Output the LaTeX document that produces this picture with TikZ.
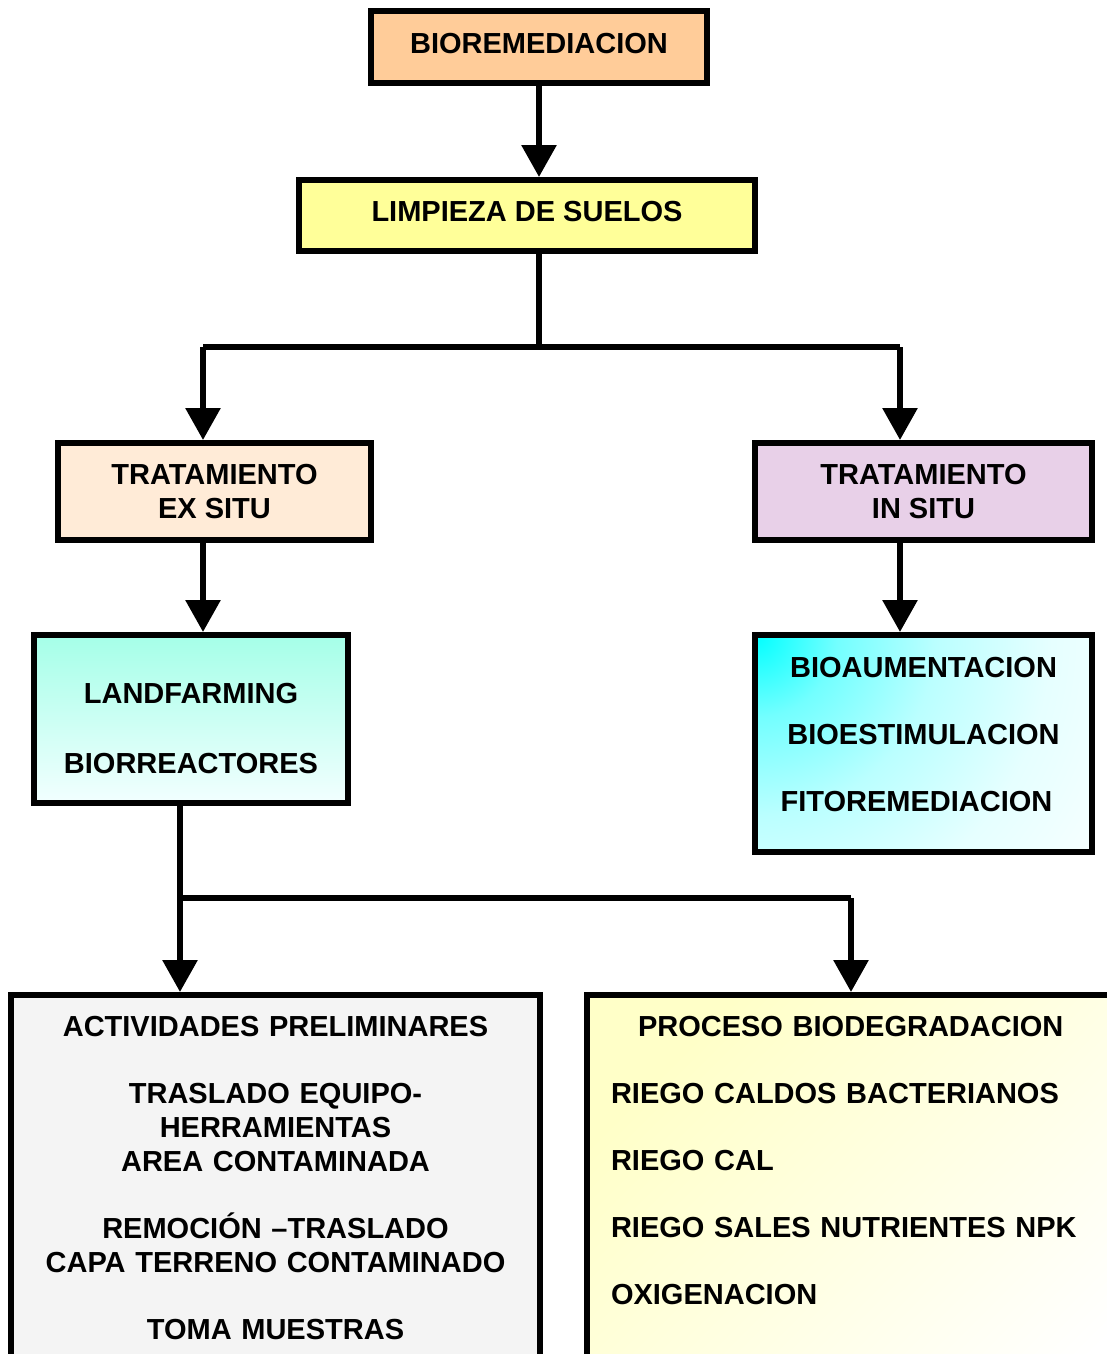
\documentclass[tikz,border=0pt]{standalone}
\usepackage{fontspec}
\setmainfont{Liberation Sans}
\usetikzlibrary{arrows.meta}
\definecolor{peach}{RGB}{255,204,153}
\definecolor{paleyellow}{RGB}{255,255,153}
\definecolor{palepeach}{RGB}{255,235,215}
\definecolor{palelilac}{RGB}{232,208,232}
\definecolor{aquatop}{RGB}{165,255,232}
\definecolor{aquabot}{RGB}{242,255,255}
\definecolor{cyantop}{RGB}{0,255,255}
\definecolor{lightcream}{RGB}{255,255,200}
\definecolor{softgray}{RGB}{244,244,244}
\newcommand{\boxfont}{\fontsize{29}{34}\selectfont\bfseries}
\pgfdeclareradialshading{cornerglow}{\pgfpoint{0bp}{0bp}}{color(0bp)=(cyantop);
  color(5bp)=(cyantop!55); color(11bp)=(cyantop!27); color(18bp)=(cyantop!10);
  color(25bp)=(cyantop!3); color(50bp)=(cyantop!3)}
\tikzset{
  box/.style={draw, line width=6pt, align=center, font=\boxfont, inner sep=0pt},
  link/.style={line width=6pt, -{Triangle[length=32pt,width=34pt]}}
}
\begin{document}
\begin{tikzpicture}[x=1pt, y=-1pt]
  \useasboundingbox (0,0) rectangle (1106,1354);
  % top of the chart
  \node [box, fill=peach, minimum width=336pt, minimum height=72pt] (bio) at (539,47)
    {BIOREMEDIACION\rule[-7pt]{0pt}{0pt}};
  \node [box, fill=paleyellow, minimum width=456pt, minimum height=71pt] (limp) at (527,215.5)
    {LIMPIEZA DE SUELOS\rule[-8pt]{0pt}{0pt}};
  \node [box, fill=palepeach, minimum width=313pt, minimum height=97pt] (ex) at (214.5,491.5) {TRATAMIENTO\\EX SITU};
  \node [box, fill=palelilac, minimum width=337pt, minimum height=97pt] (in) at (923.5,491.5) {TRATAMIENTO\\IN SITU};
  \node [box, top color=aquatop, bottom color=aquabot, minimum width=314pt, minimum height=168pt] (land) at (191,719)
    {\rule{0pt}{39pt}LANDFARMING\\[36pt]BIORREACTORES};
  \node [box, fill=white, minimum width=337pt, minimum height=217pt,
    path picture={\shade [shading=cornerglow] (path picture bounding box.north west) circle (410pt);}]
    (bioaum) at (923.5,743.5)
    {BIOAUMENTACION\\[33pt]BIOESTIMULACION\\[33pt]FITOREMEDIACION\hspace*{14pt}\rule[-19pt]{0pt}{0pt}};
  % bottom boxes, cut by the page
  \node [box, fill=softgray, text width=529pt, inner ysep=21pt, anchor=north west] (prel) at (8,992)
    {ACTIVIDADES PRELIMINARES\\[33pt]TRASLADO EQUIPO-\\HERRAMIENTAS\\AREA CONTAMINADA\\[33pt]
     REMOCIÓN --TRASLADO\\CAPA TERRENO CONTAMINADO\\[33pt]TOMA MUESTRAS\rule[-60pt]{0pt}{0pt}};
  \node [box, top color=lightcream, bottom color=white, shading angle=45, align=left,
    text width=536pt, inner xsep=24pt, inner ysep=21pt, anchor=north west] (proc) at (584,992)
    {\hspace*{27pt}PROCESO BIODEGRADACION\\[33pt]RIEGO CALDOS BACTERIANOS\\[33pt]RIEGO CAL\\[33pt]
     RIEGO SALES NUTRIENTES NPK\\[33pt]OXIGENACION\rule[-100pt]{0pt}{0pt}};
  % connectors
  \coordinate (s1) at (539,347);
  \coordinate (s1l) at (203,347);
  \coordinate (s1r) at (900,347);
  \coordinate (s2) at (180,898);
  \coordinate (s2r) at (851,898);
  \draw [link] (bio.south) -- (bio.south |- limp.north);
  \draw [line width=6pt] (limp.south -| s1) -- (s1);
  \draw [line width=6pt] (s1l) -- (s1r);
  \draw [link] (s1l) -- (s1l |- ex.north);
  \draw [link] (s1r) -- (s1r |- in.north);
  \draw [link] (ex.south -| s1l) -- (s1l |- land.north);
  \draw [link] (in.south -| s1r) -- (s1r |- bioaum.north);
  \draw [line width=6pt] (land.south -| s2) -- (s2) -- (s2r);
  \draw [link] (s2) -- (s2 |- prel.north);
  \draw [link] (s2r) -- (s2r |- proc.north);
\end{tikzpicture}
\end{document}
